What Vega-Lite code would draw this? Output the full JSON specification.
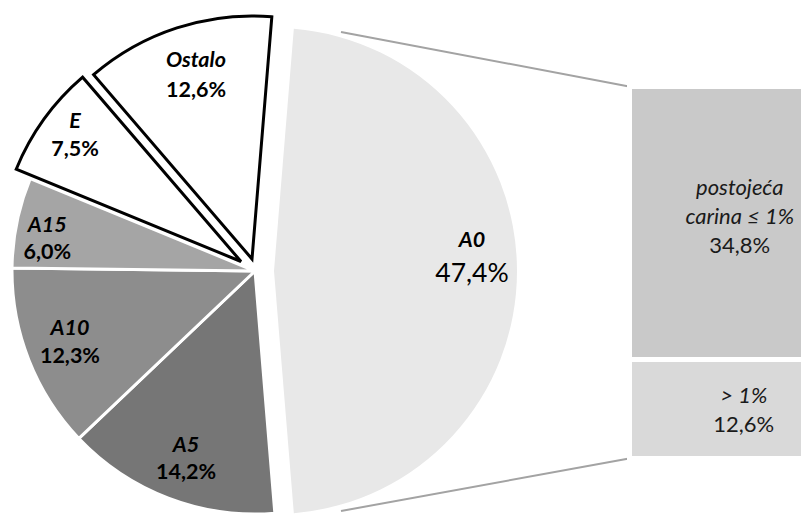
{
  "$schema": "https://vega.github.io/schema/vega-lite/v6.json",
  "width": 801,
  "height": 514,
  "autosize": "none",
  "padding": 0,
  "background": "white",
  "config": {
    "view": {"stroke": null},
    "text": {"font": "Lato"},
    "locale": {"number": {"decimal": ",", "thousands": ".", "grouping": [3], "currency": ["", " €"]}}
  },
  "datasets": {
    "pie": [
      {"name": "A0", "share": 0.474, "ord": 1},
      {"name": "A5", "share": 0.142, "ord": 2},
      {"name": "A10", "share": 0.123, "ord": 3},
      {"name": "A15", "share": 0.060, "ord": 4},
      {"name": "E", "share": 0.075, "ord": 5},
      {"name": "Ostalo", "share": 0.126, "ord": 6}
    ],
    "bar": [
      {"group": "A0", "part": "> 1%", "share": 0.126, "ord": 1},
      {"group": "A0", "part": "postojeća\ncarina ≤ 1%", "share": 0.348, "ord": 2}
    ]
  },
  "layer": [
    {
      "data": {"name": "pie"},
      "transform": [
        {"stack": "share", "groupby": [], "sort": [{"field": "ord", "order": "ascending"}], "as": ["t0", "t1"]},
        {"filter": "indexof(['A5','A10','A15'], datum.name) >= 0"}
      ],
      "mark": {"type": "arc", "x": 255, "y": 271, "radius": 243, "stroke": "white", "strokeWidth": 3},
      "encoding": {
        "theta": {"field": "t0", "type": "quantitative", "scale": {"domain": [0, 1], "range": [0.08168, 6.36487]}},
        "theta2": {"field": "t1"},
        "fill": {"field": "name", "type": "nominal", "scale": {"domain": ["A5", "A10", "A15"], "range": ["#767676", "#8d8d8d", "#a5a5a5"]}, "legend": null}
      }
    },
    {
      "data": {"name": "pie"},
      "transform": [
        {"stack": "share", "groupby": [], "sort": [{"field": "ord", "order": "ascending"}], "as": ["t0", "t1"]},
        {"filter": "datum.name === 'A0'"}
      ],
      "mark": {"type": "arc", "x": 274, "y": 271, "radius": 243, "fill": "#e8e8e8"},
      "encoding": {
        "theta": {"field": "t0", "type": "quantitative", "scale": {"domain": [0, 1], "range": [0.08168, 6.36487]}},
        "theta2": {"field": "t1"}
      }
    },
    {
      "data": {"name": "pie"},
      "transform": [
        {"stack": "share", "groupby": [], "sort": [{"field": "ord", "order": "ascending"}], "as": ["t0", "t1"]},
        {"filter": "datum.name === 'E'"}
      ],
      "mark": {"type": "arc", "x": 241, "y": 261.5, "radius": 243, "fill": "white", "stroke": "black", "strokeWidth": 3, "strokeJoin": "miter"},
      "encoding": {
        "theta": {"field": "t0", "type": "quantitative", "scale": {"domain": [0, 1], "range": [0.08168, 6.36487]}},
        "theta2": {"field": "t1"}
      }
    },
    {
      "data": {"name": "pie"},
      "transform": [
        {"stack": "share", "groupby": [], "sort": [{"field": "ord", "order": "ascending"}], "as": ["t0", "t1"]},
        {"filter": "datum.name === 'Ostalo'"}
      ],
      "mark": {"type": "arc", "x": 252, "y": 259, "radius": 243, "fill": "white", "stroke": "black", "strokeWidth": 3, "strokeJoin": "miter"},
      "encoding": {
        "theta": {"field": "t0", "type": "quantitative", "scale": {"domain": [0, 1], "range": [0.08168, 6.36487]}},
        "theta2": {"field": "t1"}
      }
    },
    {
      "data": {"values": [{}]},
      "mark": {"type": "rule", "color": "#a3a3a3", "strokeWidth": 2},
      "encoding": {
        "x": {"value": 629},
        "y": {"datum": 0.474, "type": "quantitative", "axis": null},
        "x2": {"value": 341},
        "y2": {"value": 32}
      }
    },
    {
      "data": {"values": [{}]},
      "mark": {"type": "rule", "color": "#a3a3a3", "strokeWidth": 2},
      "encoding": {
        "x": {"value": 629},
        "y": {"datum": 0, "type": "quantitative", "axis": null},
        "x2": {"value": 341},
        "y2": {"value": 511}
      }
    },
    {
      "data": {"name": "bar"},
      "mark": {"type": "bar", "stroke": "white", "strokeWidth": 5},
      "encoding": {
        "x": {"field": "group", "type": "nominal", "axis": null, "scale": {"range": [629.5, 850], "paddingInner": 0, "paddingOuter": 0}},
        "y": {"field": "share", "type": "quantitative", "stack": "zero", "axis": null, "scale": {"domain": [0, 0.474], "range": [458.5, 86.5], "nice": false, "zero": false}},
        "order": {"field": "ord", "type": "quantitative"},
        "fill": {"condition": {"test": "datum.ord === 2", "value": "#c9c9c9"}, "value": "#d9d9d9"}
      }
    },
    {
      "data": {"name": "bar"},
      "transform": [
        {"stack": "share", "groupby": [], "sort": [{"field": "ord", "order": "ascending"}], "as": ["b0", "b1"]},
        {"filter": "datum.ord === 2"}
      ],
      "mark": {"type": "text", "fontSize": 22, "fontStyle": "italic", "align": "center", "baseline": "alphabetic", "lineBreak": "\n", "lineHeight": 29, "dy": -164.6, "color": "#1a1a1a"},
      "encoding": {
        "x": {"field": "group", "type": "nominal", "axis": null},
        "y": {"field": "b0", "type": "quantitative", "axis": null},
        "text": {"field": "part", "type": "nominal"}
      }
    },
    {
      "data": {"name": "bar"},
      "transform": [
        {"stack": "share", "groupby": [], "sort": [{"field": "ord", "order": "ascending"}], "as": ["b0", "b1"]},
        {"filter": "datum.ord === 2"}
      ],
      "mark": {"type": "text", "fontSize": 22, "align": "center", "baseline": "alphabetic", "dy": -106.6, "color": "#1a1a1a"},
      "encoding": {
        "x": {"field": "group", "type": "nominal", "axis": null},
        "y": {"field": "b0", "type": "quantitative", "axis": null},
        "text": {"field": "share", "type": "quantitative", "format": ".1%"}
      }
    },
    {
      "data": {"name": "bar"},
      "transform": [
        {"stack": "share", "groupby": [], "sort": [{"field": "ord", "order": "ascending"}], "as": ["b0", "b1"]},
        {"filter": "datum.ord === 1"}
      ],
      "mark": {"type": "text", "fontSize": 22, "fontStyle": "italic", "align": "center", "baseline": "alphabetic", "dx": 4, "dy": -55.5, "color": "#1a1a1a"},
      "encoding": {
        "x": {"field": "group", "type": "nominal", "axis": null},
        "y": {"field": "b0", "type": "quantitative", "axis": null},
        "text": {"field": "part", "type": "nominal"}
      }
    },
    {
      "data": {"name": "bar"},
      "transform": [
        {"stack": "share", "groupby": [], "sort": [{"field": "ord", "order": "ascending"}], "as": ["b0", "b1"]},
        {"filter": "datum.ord === 1"}
      ],
      "mark": {"type": "text", "fontSize": 22, "align": "center", "baseline": "alphabetic", "dx": 4, "dy": -26.5, "color": "#1a1a1a"},
      "encoding": {
        "x": {"field": "group", "type": "nominal", "axis": null},
        "y": {"field": "b0", "type": "quantitative", "axis": null},
        "text": {"field": "share", "type": "quantitative", "format": ".1%"}
      }
    },
    {
      "data": {"name": "pie"},
      "mark": {"type": "text", "x": 255, "y": 271, "radius": 202, "dx": 3, "dy": -7.8, "fontSize": 21.5, "fontWeight": "bold", "fontStyle": "italic", "align": "center", "baseline": "alphabetic", "color": "black"},
      "encoding": {
        "theta": {"field": "share", "type": "quantitative", "stack": true, "scale": {"domain": [0, 1], "range": [0.08168, 6.36487]}},
        "order": {"field": "ord", "type": "quantitative"},
        "text": {"field": "name", "type": "nominal"},
        "opacity": {"condition": {"test": "datum.name === 'A5'", "value": 1}, "value": 0}
      }
    },
    {
      "data": {"name": "pie"},
      "mark": {"type": "text", "x": 255, "y": 271, "radius": 202, "dx": 3, "dy": 19.2, "fontSize": 21.5, "fontWeight": "bold", "align": "center", "baseline": "alphabetic", "color": "black"},
      "encoding": {
        "theta": {"field": "share", "type": "quantitative", "stack": true, "scale": {"domain": [0, 1], "range": [0.08168, 6.36487]}},
        "order": {"field": "ord", "type": "quantitative"},
        "text": {"field": "share", "type": "quantitative", "format": ".1%"},
        "opacity": {"condition": {"test": "datum.name === 'A5'", "value": 1}, "value": 0}
      }
    },
    {
      "data": {"name": "pie"},
      "mark": {"type": "text", "x": 255, "y": 271, "radius": 202, "dx": 3, "dy": -9.9, "fontSize": 21.5, "fontWeight": "bold", "fontStyle": "italic", "align": "center", "baseline": "alphabetic", "color": "black"},
      "encoding": {
        "theta": {"field": "share", "type": "quantitative", "stack": true, "scale": {"domain": [0, 1], "range": [0.08168, 6.36487]}},
        "order": {"field": "ord", "type": "quantitative"},
        "text": {"field": "name", "type": "nominal"},
        "opacity": {"condition": {"test": "datum.name === 'A10'", "value": 1}, "value": 0}
      }
    },
    {
      "data": {"name": "pie"},
      "mark": {"type": "text", "x": 255, "y": 271, "radius": 202, "dx": 3, "dy": 18.1, "fontSize": 21.5, "fontWeight": "bold", "align": "center", "baseline": "alphabetic", "color": "black"},
      "encoding": {
        "theta": {"field": "share", "type": "quantitative", "stack": true, "scale": {"domain": [0, 1], "range": [0.08168, 6.36487]}},
        "order": {"field": "ord", "type": "quantitative"},
        "text": {"field": "share", "type": "quantitative", "format": ".1%"},
        "opacity": {"condition": {"test": "datum.name === 'A10'", "value": 1}, "value": 0}
      }
    },
    {
      "data": {"name": "pie"},
      "mark": {"type": "text", "x": 255, "y": 271, "radius": 212, "dy": 3.5, "fontSize": 21.5, "fontWeight": "bold", "fontStyle": "italic", "align": "center", "baseline": "alphabetic", "color": "black"},
      "encoding": {
        "theta": {"field": "share", "type": "quantitative", "stack": true, "scale": {"domain": [0, 1], "range": [0.08168, 6.36487]}},
        "order": {"field": "ord", "type": "quantitative"},
        "text": {"field": "name", "type": "nominal"},
        "opacity": {"condition": {"test": "datum.name === 'A15'", "value": 1}, "value": 0}
      }
    },
    {
      "data": {"name": "pie"},
      "mark": {"type": "text", "x": 255, "y": 271, "radius": 212, "dy": 30.3, "fontSize": 21.5, "fontWeight": "bold", "align": "center", "baseline": "alphabetic", "color": "black"},
      "encoding": {
        "theta": {"field": "share", "type": "quantitative", "stack": true, "scale": {"domain": [0, 1], "range": [0.08168, 6.36487]}},
        "order": {"field": "ord", "type": "quantitative"},
        "text": {"field": "share", "type": "quantitative", "format": ".1%"},
        "opacity": {"condition": {"test": "datum.name === 'A15'", "value": 1}, "value": 0}
      }
    },
    {
      "data": {"name": "pie"},
      "mark": {"type": "text", "x": 241, "y": 261.5, "radius": 209, "dx": 3.5, "dy": -10.7, "fontSize": 21.5, "fontWeight": "bold", "fontStyle": "italic", "align": "center", "baseline": "alphabetic", "color": "black"},
      "encoding": {
        "theta": {"field": "share", "type": "quantitative", "stack": true, "scale": {"domain": [0, 1], "range": [0.08168, 6.36487]}},
        "order": {"field": "ord", "type": "quantitative"},
        "text": {"field": "name", "type": "nominal"},
        "opacity": {"condition": {"test": "datum.name === 'E'", "value": 1}, "value": 0}
      }
    },
    {
      "data": {"name": "pie"},
      "mark": {"type": "text", "x": 241, "y": 261.5, "radius": 209, "dx": 3.5, "dy": 17, "fontSize": 21.5, "fontWeight": "bold", "align": "center", "baseline": "alphabetic", "color": "black"},
      "encoding": {
        "theta": {"field": "share", "type": "quantitative", "stack": true, "scale": {"domain": [0, 1], "range": [0.08168, 6.36487]}},
        "order": {"field": "ord", "type": "quantitative"},
        "text": {"field": "share", "type": "quantitative", "format": ".1%"},
        "opacity": {"condition": {"test": "datum.name === 'E'", "value": 1}, "value": 0}
      }
    },
    {
      "data": {"name": "pie"},
      "mark": {"type": "text", "x": 252, "y": 259, "radius": 192, "dx": 3.3, "dy": -9.4, "fontSize": 21.5, "fontWeight": "bold", "fontStyle": "italic", "align": "center", "baseline": "alphabetic", "color": "black"},
      "encoding": {
        "theta": {"field": "share", "type": "quantitative", "stack": true, "scale": {"domain": [0, 1], "range": [0.08168, 6.36487]}},
        "order": {"field": "ord", "type": "quantitative"},
        "text": {"field": "name", "type": "nominal"},
        "opacity": {"condition": {"test": "datum.name === 'Ostalo'", "value": 1}, "value": 0}
      }
    },
    {
      "data": {"name": "pie"},
      "mark": {"type": "text", "x": 252, "y": 259, "radius": 192, "dx": 3.3, "dy": 20.6, "fontSize": 21.5, "fontWeight": "bold", "align": "center", "baseline": "alphabetic", "color": "black"},
      "encoding": {
        "theta": {"field": "share", "type": "quantitative", "stack": true, "scale": {"domain": [0, 1], "range": [0.08168, 6.36487]}},
        "order": {"field": "ord", "type": "quantitative"},
        "text": {"field": "share", "type": "quantitative", "format": ".1%"},
        "opacity": {"condition": {"test": "datum.name === 'Ostalo'", "value": 1}, "value": 0}
      }
    },
    {
      "data": {"name": "pie"},
      "mark": {"type": "text", "x": 274, "y": 271, "radius": 198, "dy": -24, "fontSize": 21.5, "fontWeight": "bold", "fontStyle": "italic", "align": "center", "baseline": "alphabetic", "color": "black"},
      "encoding": {
        "theta": {"field": "share", "type": "quantitative", "stack": true, "scale": {"domain": [0, 1], "range": [0.08168, 6.36487]}},
        "order": {"field": "ord", "type": "quantitative"},
        "text": {"field": "name", "type": "nominal"},
        "opacity": {"condition": {"test": "datum.name === 'A0'", "value": 1}, "value": 0}
      }
    },
    {
      "data": {"name": "pie"},
      "mark": {"type": "text", "x": 274, "y": 271, "radius": 198, "dy": 11.5, "fontSize": 26.5, "align": "center", "baseline": "alphabetic", "color": "black"},
      "encoding": {
        "theta": {"field": "share", "type": "quantitative", "stack": true, "scale": {"domain": [0, 1], "range": [0.08168, 6.36487]}},
        "order": {"field": "ord", "type": "quantitative"},
        "text": {"field": "share", "type": "quantitative", "format": ".1%"},
        "opacity": {"condition": {"test": "datum.name === 'A0'", "value": 1}, "value": 0}
      }
    }
  ]
}
